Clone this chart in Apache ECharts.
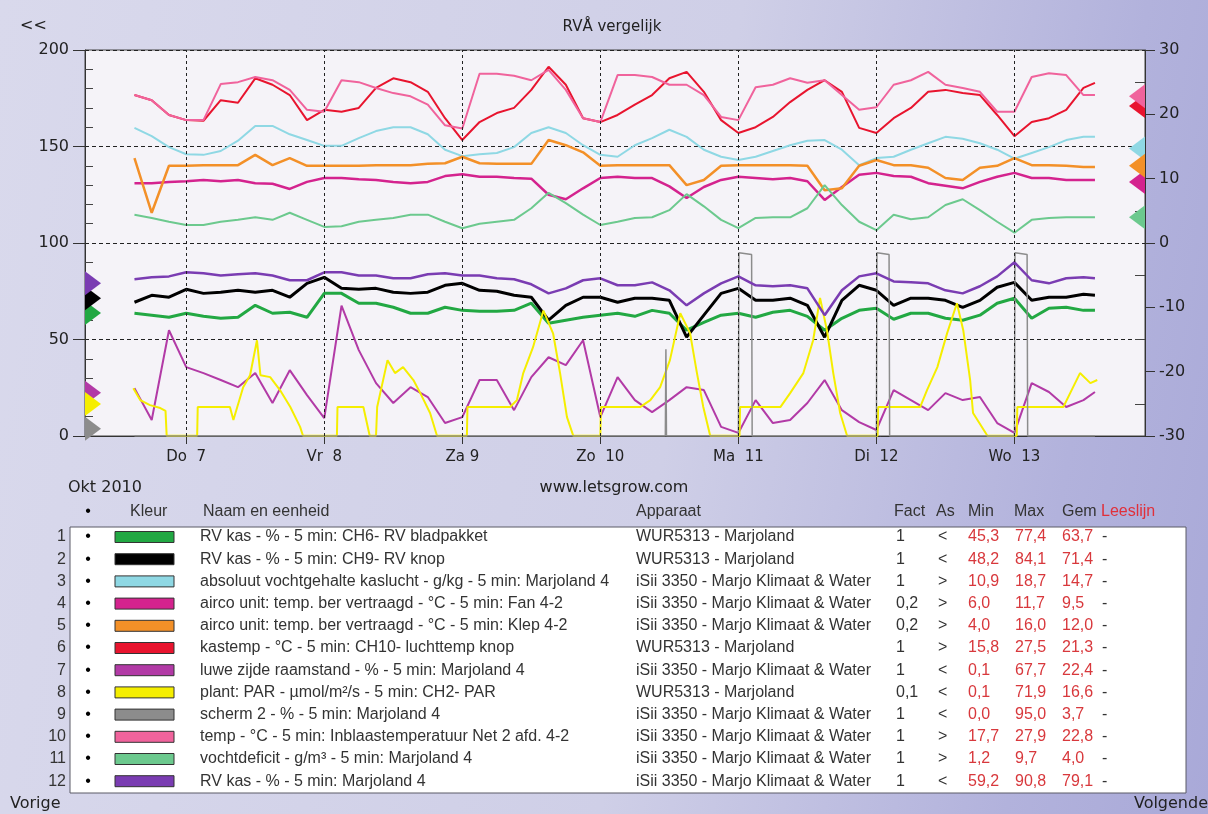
<!DOCTYPE html>
<html>
<head>
<meta charset="utf-8">
<title>RVÅ vergelijk</title>
<script src="https://cdn.jsdelivr.net/npm/echarts@6/dist/echarts.min.js"></script>
<style>
html, body { margin: 0; padding: 0; }
#chart {
    width: 1208px;
    height: 814px;
    background: linear-gradient(100deg, #d9d9ec 0%, #cfcfe7 55%, #b2b2dc 85%, #a9a9d8 100%);
}
</style>
</head>
<body>
<div id="chart"></div>
<script>
// hours after Do 7 okt 2010 00:00
const hours = [-9, -6, -3, 0, 3, 6, 9, 12, 15, 18, 21, 24, 27, 30, 33, 36, 39, 42, 45, 48,
    51, 54, 57, 60, 63, 66, 69, 72, 75, 78, 81, 84, 87, 90, 93, 96, 99, 102, 105, 108,
    111, 114, 117, 120, 123, 126, 129, 132, 135, 138, 141, 144, 147, 150, 153, 156, 158];
const dayHours = [0, 24, 48, 72, 96, 120, 144];
const dayLabels = ['Do  7', 'Vr  8', 'Za 9', 'Zo  10', 'Ma  11', 'Di  12', 'Wo  13'];

// 1 RV kas CH6 (left)
const rvBladpakket = [63.6, 62.6, 61.5, 63.6, 62.0, 61.0, 61.5, 67.7, 63.6, 64.1,
    61.5, 73.9, 73.9, 68.8, 68.8, 66.7, 63.6, 63.6, 66.7, 65.1,
    64.6, 64.6, 65.1, 68.8, 58.4, 60.0, 61.5, 62.6, 63.6, 62.0,
    65.1, 63.6, 54.8, 58.9, 62.6, 63.6, 61.5, 64.1, 65.1, 62.0,
    54.8, 61.0, 65.1, 66.2, 60.5, 63.6, 63.6, 61.0, 60.0, 62.6,
    68.8, 71.4, 61.0, 66.2, 66.7, 65.1, 65.1];
// 2 RV kas CH9 (left)
const rvKnop = [69.3, 72.9, 71.9, 76.0, 73.9, 74.5, 75.5, 74.5, 75.5, 71.9,
    79.1, 82.2, 76.5, 76.0, 76.5, 74.5, 73.9, 74.5, 78.1, 79.1,
    75.5, 75.0, 72.9, 71.9, 60.0, 67.7, 71.9, 71.9, 69.3, 71.4,
    71.4, 70.3, 51.2, 62.6, 73.9, 76.5, 70.3, 70.3, 71.4, 67.7,
    51.2, 70.3, 78.1, 75.5, 67.7, 71.4, 71.4, 70.3, 66.7, 70.3,
    77.1, 79.6, 70.3, 71.9, 71.9, 73.4, 72.9];
// 3 absoluut vochtgehalte (right)
const vochtgehalte = [17.9, 16.6, 14.9, 13.8, 13.7, 14.3, 15.9, 18.2, 18.2, 16.9,
    16.0, 15.1, 15.1, 16.3, 17.4, 18.0, 18.0, 16.9, 14.5, 13.5,
    13.8, 14.0, 14.9, 17.1, 18.0, 17.1, 15.2, 13.7, 13.4, 15.2,
    16.3, 17.6, 16.5, 14.5, 13.4, 12.9, 13.4, 14.3, 15.2, 15.9,
    16.0, 14.5, 12.1, 13.2, 13.4, 14.5, 15.5, 16.5, 16.2, 15.5,
    14.5, 13.1, 14.0, 14.9, 16.0, 16.5, 16.5];
// 4 airco Fan 4-2 (right)
const aircoFan = [9.3, 9.3, 9.5, 9.6, 9.8, 9.6, 9.8, 9.3, 9.2, 8.4,
    9.5, 10.1, 10.1, 9.9, 9.8, 9.5, 9.3, 9.5, 10.4, 10.7,
    10.3, 10.3, 10.1, 10.0, 7.5, 6.8, 8.5, 10.1, 10.3, 10.1,
    10.1, 8.8, 7.0, 8.7, 9.8, 10.3, 10.1, 9.9, 10.1, 9.6,
    6.7, 8.7, 10.6, 10.9, 10.4, 10.3, 9.3, 8.9, 8.5, 9.5,
    10.3, 10.9, 10.1, 10.1, 9.8, 9.8, 9.8];
// 5 airco Klep 4-2 (right)
const aircoKlep = [13.2, 4.7, 12.0, 12.0, 12.1, 12.1, 12.1, 13.7, 12.1, 13.2,
    12.0, 12.0, 12.0, 12.0, 12.1, 12.1, 12.1, 12.3, 12.4, 13.4,
    12.4, 12.3, 12.3, 12.3, 16.0, 15.2, 14.1, 12.0, 12.1, 12.1,
    12.1, 12.1, 9.0, 9.8, 12.0, 12.1, 12.1, 12.1, 12.1, 12.0,
    8.2, 8.5, 12.0, 12.9, 12.1, 12.1, 11.7, 10.1, 9.8, 11.7,
    12.0, 13.2, 12.1, 12.1, 12.0, 11.8, 11.8];
// 6 kastemp (right)
const kastemp = [23.0, 22.2, 19.9, 19.1, 19.0, 22.2, 21.8, 25.6, 24.6, 23.0,
    19.1, 20.7, 20.4, 21.0, 24.1, 25.6, 25.0, 23.5, 19.4, 16.0,
    18.8, 20.2, 21.0, 23.8, 27.4, 24.6, 19.4, 18.8, 19.9, 21.5,
    23.0, 25.6, 26.6, 23.5, 19.1, 17.1, 18.0, 19.6, 21.9, 23.8,
    25.3, 23.5, 17.9, 17.1, 19.4, 21.0, 23.5, 23.8, 23.3, 23.0,
    19.9, 16.6, 18.8, 19.4, 20.7, 24.1, 24.9];
// 7 luwe zijde raamstand (left)
const raamstand = [24.8, 8.3, 54.8, 35.7, 32.6, 29.0, 25.3, 32.6, 17.1, 34.1,
    21.2, 9.3, 67.5, 44.5, 27.4, 17.1, 25.3, 20.2, 6.7, 9.8,
    29.0, 29.0, 13.4, 30.5, 40.8, 36.7, 49.6, 9.8, 30.5, 18.6,
    12.4, 18.6, 25.3, 23.8, 4.7, 1.6, 18.6, 6.7, 8.3, 17.1,
    29.0, 13.4, 7.2, 3.1, 23.8, 18.6, 13.4, 22.2, 18.6, 20.2,
    6.7, 1.6, 27.4, 22.8, 15.0, 18.6, 22.8];
// 8 plant PAR x0.1 (left), [hour, value]
const par = [[-9.2, 24.8], [-8, 18.6], [-6.3, 16.0], [-4.5, 14.5], [-3.6, 13.0], [-3.4, 0.1],
    [1.9, 0.1], [2.0, 15.0], [7.6, 15.0], [8.2, 8.3], [9.9, 25.3], [11.1, 31.5], [12.3, 49.6],
    [12.9, 31.5], [14.6, 30.5], [16.3, 23.8], [18.1, 15.0], [19.8, 4.7], [20.3, 0.1],
    [26.2, 0.1], [26.3, 15.0], [30.8, 15.0], [31.9, 0.1], [33.0, 0.1], [33.2, 15.0],
    [35.0, 39.3], [36.3, 32.6], [37.7, 35.7], [39.5, 29.0], [40.7, 22.2], [42.4, 11.9], [43.6, 0.1],
    [48.8, 0.1], [48.9, 15.0], [56.3, 15.0], [57.5, 18.6], [58.6, 32.6], [60.3, 46.0],
    [62.1, 65.0], [63.8, 53.0], [65.0, 32.6], [66.2, 9.8], [67.3, 0.1],
    [72.0, 0.1], [72.1, 15.0], [78.9, 15.0], [80.7, 18.6], [82.4, 25.3], [84.1, 39.3],
    [85.9, 63.6], [87.6, 53.3], [88.8, 32.6], [89.9, 15.0], [91.1, 0.1],
    [96.2, 0.1], [96.3, 15.0], [103.3, 15.0], [105.0, 22.2], [107.3, 32.6], [109.0, 49.6],
    [110.2, 71.5], [111.4, 54.8], [112.5, 32.6], [113.7, 11.9], [114.9, 0.1],
    [120.2, 0.1], [120.3, 15.0], [127.6, 15.0], [128.8, 23.8], [130.6, 35.7], [132.3, 53.3],
    [134.0, 68.8], [135.1, 54.8], [136.3, 29.0], [136.8, 11.9], [139.3, 0.1],
    [144.4, 0.1], [144.5, 15.0], [152.5, 15.0], [154.2, 25.3], [155.4, 32.6], [157.2, 27.4], [158.4, 29.0]];
// 9 scherm 2 (left), [hour, value]
const scherm = [[-9, 0], [83.3, 0], [83.4, 45], [83.5, 0], [96.0, 0], [96.1, 95], [98.3, 94], [98.4, 0],
    [120.0, 0], [120.1, 95], [122.2, 94], [122.3, 0], [144.0, 0], [144.1, 95], [146.2, 94], [146.3, 0], [158, 0]];
// 10 inblaastemperatuur (right)
const inblaasTemp = [23.0, 22.2, 19.9, 19.1, 19.1, 24.7, 25.0, 25.8, 25.3, 23.8,
    20.7, 20.4, 25.3, 25.0, 24.1, 23.3, 22.8, 21.5, 18.3, 17.8,
    26.3, 26.3, 26.0, 25.3, 26.9, 23.8, 19.4, 18.8, 26.1, 26.1,
    25.8, 24.6, 24.6, 23.0, 19.6, 19.1, 24.2, 24.6, 25.6, 24.9,
    25.3, 23.0, 20.7, 21.1, 24.6, 25.3, 26.6, 24.6, 24.1, 23.5,
    20.4, 20.4, 25.8, 26.4, 26.1, 23.0, 23.0];
// 11 vochtdeficit (right)
const vochtdeficit = [4.4, 3.9, 3.3, 2.8, 2.8, 3.3, 3.6, 4.0, 3.6, 4.7,
    3.6, 2.5, 2.6, 3.3, 3.6, 3.9, 4.4, 4.4, 3.3, 2.3,
    3.0, 3.3, 3.6, 5.4, 7.8, 6.2, 4.4, 2.8, 3.3, 3.9,
    4.0, 5.1, 7.6, 5.7, 3.6, 2.3, 3.9, 4.0, 4.0, 5.4,
    9.0, 5.9, 3.3, 2.0, 4.4, 3.7, 4.0, 5.9, 6.8, 5.1,
    3.3, 1.6, 3.6, 3.9, 4.0, 4.0, 4.0];
// 12 RV kas Marjoland 4 (left)
const rvKas = [81.2, 82.2, 82.7, 84.8, 84.3, 83.2, 83.8, 84.3, 83.2, 80.7,
    80.7, 84.8, 84.8, 83.2, 83.2, 81.7, 81.7, 83.8, 84.3, 83.2,
    83.2, 81.7, 81.2, 78.6, 73.9, 76.5, 80.7, 81.7, 78.1, 78.1,
    79.6, 75.5, 67.7, 73.9, 79.1, 82.7, 78.1, 77.6, 78.1, 76.5,
    62.6, 75.5, 82.7, 84.3, 80.1, 79.6, 79.1, 75.5, 73.9, 77.6,
    82.7, 90.0, 80.7, 79.1, 81.7, 82.2, 81.7];

// table
const seriesNames = [
    'RV kas - % - 5 min: CH6- RV bladpakket',
    'RV kas - % - 5 min: CH9- RV knop',
    'absoluut vochtgehalte kaslucht - g/kg - 5 min: Marjoland 4',
    'airco unit: temp. ber vertraagd - °C - 5 min: Fan 4-2',
    'airco unit: temp. ber vertraagd - °C - 5 min: Klep 4-2',
    'kastemp - °C - 5 min: CH10- luchttemp knop',
    'luwe zijde raamstand - % - 5 min: Marjoland 4',
    'plant: PAR - µmol/m²/s - 5 min: CH2- PAR',
    'scherm 2 - % - 5 min: Marjoland 4',
    'temp - °C - 5 min: Inblaastemperatuur Net 2 afd. 4-2',
    'vochtdeficit - g/m³ - 5 min: Marjoland 4',
    'RV kas - % - 5 min: Marjoland 4'
];
const devices = ['WUR5313 - Marjoland', 'WUR5313 - Marjoland', 'iSii 3350 - Marjo Klimaat & Water',
    'iSii 3350 - Marjo Klimaat & Water', 'iSii 3350 - Marjo Klimaat & Water', 'WUR5313 - Marjoland',
    'iSii 3350 - Marjo Klimaat & Water', 'WUR5313 - Marjoland', 'iSii 3350 - Marjo Klimaat & Water',
    'iSii 3350 - Marjo Klimaat & Water', 'iSii 3350 - Marjo Klimaat & Water', 'iSii 3350 - Marjo Klimaat & Water'];
const factors = ['1', '1', '1', '0,2', '0,2', '1', '1', '0,1', '1', '1', '1', '1'];
const axisSide = ['<', '<', '>', '>', '>', '>', '<', '<', '<', '>', '>', '<'];
const minValues = [45.3, 48.2, 10.9, 6.0, 4.0, 15.8, 0.1, 0.1, 0.0, 17.7, 1.2, 59.2];
const maxValues = [77.4, 84.1, 18.7, 11.7, 16.0, 27.5, 67.7, 71.9, 95.0, 27.9, 9.7, 90.8];
const gemValues = [63.7, 71.4, 14.7, 9.5, 12.0, 21.3, 22.4, 16.6, 3.7, 22.8, 4.0, 79.1];

const colors = ['#22a843', '#000000', '#8fd8e4', '#d4238e', '#f39028', '#e8142e',
    '#b23aa6', '#f5ee00', '#8c8c8c', '#f0639c', '#6cc98e', '#7a3cb2'];
const widths = [3, 3, 2, 2.5, 2.5, 2, 2, 2, 1.5, 2, 2, 2.5];

const seriesData = [rvBladpakket, rvKnop, vochtgehalte, aircoFan, aircoKlep, kastemp,
    raamstand, par, scherm, inblaasTemp, vochtdeficit, rvKas];

const X_MIN = -17.6;
const X_MAX = 166.7;

const chart = echarts.init(document.getElementById('chart'), null, {renderer: 'canvas'});

function toPairs(vals) {
    return hours.map((h, i) => [h, vals[i]]);
}
function fmt(v) {
    return v.toFixed(1).replace('.', ',');
}

const series = seriesNames.map((name, i) => {
    const d = seriesData[i];
    const left = axisSide[i] === '<';
    const s = {
        name: name,
        type: 'line',
        yAxisIndex: left ? 0 : 1,
        data: Array.isArray(d[0]) ? d : toPairs(d),
        showSymbol: false,
        symbol: 'none',
        lineStyle: {color: colors[i], width: widths[i]},
        itemStyle: {color: colors[i]},
        z: 3,
        markPoint: {
            silent: true,
            symbol: 'triangle',
            symbolSize: [24, 16],
            symbolRotate: left ? -90 : 90,
            symbolOffset: [left ? 8 : -8, 0],
            label: {show: false},
            itemStyle: {color: colors[i]},
            data: [{coord: [left ? X_MIN : X_MAX, gemValues[i]]}]
        }
    };
    if (i === 8) {
        s.markLine = {
            silent: true,
            symbol: ['none', 'none'],
            label: {show: false},
            lineStyle: {color: '#222', width: 1, type: [3, 3]},
            data: dayHours.map(h => ({xAxis: h}))
        };
    }
    return s;
});

// texts and table
const graphics = [];
function txt(text, x, y, opts) {
    graphics.push({
        type: 'text', silent: true,
        style: Object.assign({
            text: text, x: x, y: y, fill: '#222',
            fontSize: 16, fontFamily: 'DejaVu Sans',
            align: 'left', verticalAlign: 'middle'
        }, opts || {})
    });
}
const tFont = {fontFamily: 'Liberation Sans', fontSize: 16, fill: '#333'};
const red = '#d8383c';

txt('<<', 20, 26);
txt('RVÅ vergelijk', 612, 27, {align: 'center', fontSize: 15});
txt('Okt 2010', 68, 488);
txt('www.letsgrow.com', 614, 488, {align: 'center'});
txt('Vorige', 10, 804);
txt('Volgende', 1208, 804, {align: 'right'});

graphics.push({
    type: 'rect', silent: true,
    shape: {x: 70, y: 527, width: 1116, height: 266},
    style: {fill: '#ffffff', stroke: '#5a5a66', lineWidth: 1}
});

const headY = 512;
txt('•', 88, headY, Object.assign({}, tFont, {align: 'center', fill: '#000'}));
txt('Kleur', 130, headY, tFont);
txt('Naam en eenheid', 203, headY, tFont);
txt('Apparaat', 636, headY, tFont);
txt('Fact', 894, headY, tFont);
txt('As', 936, headY, tFont);
txt('Min', 968, headY, tFont);
txt('Max', 1014, headY, tFont);
txt('Gem', 1062, headY, tFont);
txt('Leeslijn', 1101, headY, Object.assign({}, tFont, {fill: '#e0303a'}));

seriesNames.forEach((name, i) => {
    const y = 537 + i * 22.2;
    txt(String(i + 1), 66, y, Object.assign({}, tFont, {align: 'right'}));
    txt('•', 88, y, Object.assign({}, tFont, {align: 'center', fill: '#000'}));
    graphics.push({
        type: 'rect', silent: true,
        shape: {x: 115, y: y - 5.5, width: 59, height: 11},
        style: {fill: colors[i], stroke: '#333', lineWidth: 1}
    });
    txt(name, 200, y, tFont);
    txt(devices[i], 636, y, tFont);
    txt(factors[i], 896, y, tFont);
    txt(axisSide[i], 938, y, tFont);
    txt(fmt(minValues[i]), 968, y, Object.assign({}, tFont, {fill: red}));
    txt(fmt(maxValues[i]), 1015, y, Object.assign({}, tFont, {fill: red}));
    txt(fmt(gemValues[i]), 1062, y, Object.assign({}, tFont, {fill: red}));
    txt('-', 1102, y, tFont);
});

const axisLabelStyle = {color: '#222', fontSize: 16, fontFamily: 'DejaVu Sans'};

chart.setOption({
    animation: false,
    backgroundColor: 'transparent',
    grid: {
        left: 85, top: 50, width: 1060, height: 386,
        show: true, backgroundColor: '#f5f3f8',
        borderColor: '#444', borderWidth: 1,
        containLabel: false
    },
    xAxis: {
        type: 'value',
        min: X_MIN,
        max: X_MAX,
        axisLine: {show: true, onZero: false, lineStyle: {color: '#333', width: 1}},
        axisTick: {show: true, customValues: dayHours, length: 8, lineStyle: {color: '#333'}},
        axisLabel: {
            customValues: dayHours,
            margin: 14,
            fontSize: 15,
            color: '#222',
            fontFamily: 'DejaVu Sans',
            formatter: v => dayLabels[dayHours.indexOf(v)] || ''
        },
        splitLine: {show: false}
    },
    yAxis: [
        {
            type: 'value', position: 'left', min: 0, max: 200, interval: 50,
            axisLine: {show: true, onZero: false, lineStyle: {color: '#333'}},
            axisTick: {show: true, length: 12, lineStyle: {color: '#333'}},
            axisLabel: Object.assign({margin: 16}, axisLabelStyle),
            splitLine: {show: true, lineStyle: {color: '#222', width: 1, type: [4, 3]}}
        },
        {
            type: 'value', position: 'right', min: -30, max: 30, interval: 10,
            axisLine: {show: true, onZero: false, lineStyle: {color: '#333'}},
            axisTick: {show: true, length: 10, lineStyle: {color: '#333'}},
            axisLabel: Object.assign({margin: 14}, axisLabelStyle),
            splitLine: {show: false}
        },
        {
            type: 'value', position: 'left', min: 0, max: 200, interval: 50,
            axisLine: {show: false, onZero: false},
            axisTick: {show: false, inside: true},
            minorTick: {show: true, splitNumber: 5, length: 8, lineStyle: {color: '#444'}},
            axisLabel: {show: false},
            splitLine: {show: false}
        },
        {
            type: 'value', position: 'right', min: -30, max: 30, interval: 10,
            axisLine: {show: false, onZero: false},
            axisTick: {show: false, inside: true},
            minorTick: {show: true, splitNumber: 2, length: 10, lineStyle: {color: '#444'}},
            axisLabel: {show: false},
            splitLine: {show: false}
        }
    ],
    series: series,
    graphic: graphics
});
</script>
</body>
</html>
